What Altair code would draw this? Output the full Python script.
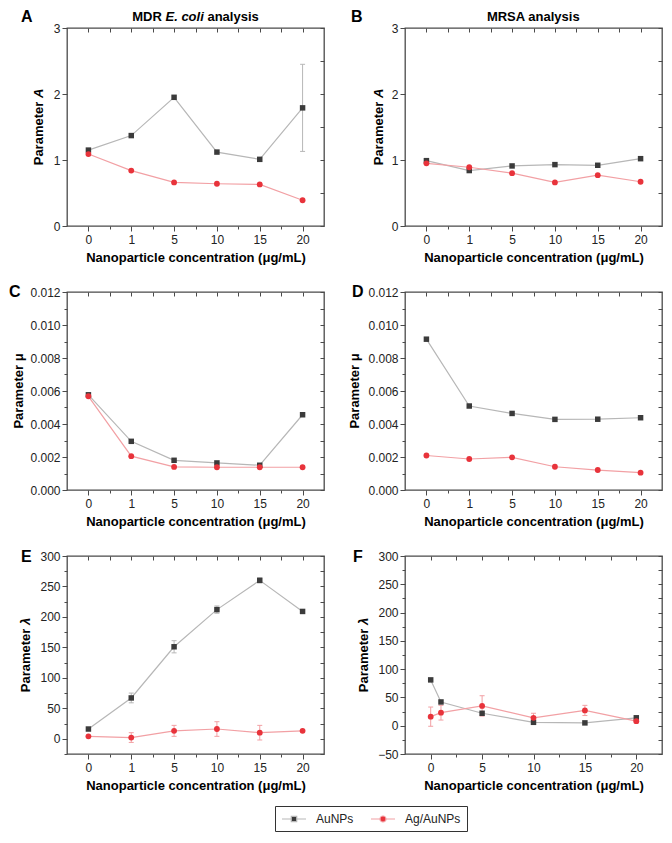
import altair as alt
import pandas as pd
import numpy as np

# ---------------- data ----------------
series_names = ["AuNPs", "Ag/AuNPs"]
conc_labels = ["0", "1", "5", "10", "15", "20"]
conc_values = [0, 1, 5, 10, 15, 20]

A_au = [1.15, 1.37, 1.95, 1.12, 1.01, 1.79]
A_au_err = [0, 0, 0, 0, 0, 0.66]
A_ag = [1.09, 0.84, 0.66, 0.64, 0.63, 0.39]
A_ag_err = [0, 0, 0, 0, 0, 0]

B_au = [0.99, 0.84, 0.91, 0.93, 0.92, 1.02]
B_au_err = [0, 0, 0, 0, 0, 0]
B_ag = [0.95, 0.89, 0.80, 0.66, 0.77, 0.67]
B_ag_err = [0, 0, 0, 0, 0, 0]

C_au = [0.00577, 0.00295, 0.00180, 0.00164, 0.00150, 0.00456]
C_au_err = [0, 0, 0, 0, 0, 0]
C_ag = [0.00568, 0.00205, 0.00140, 0.00138, 0.00138, 0.00138]
C_ag_err = [0, 0, 0, 0, 0, 0]

D_au = [0.00914, 0.00509, 0.00464, 0.00428, 0.00429, 0.00438]
D_au_err = [0, 0, 0, 0, 0, 0]
D_ag = [0.00209, 0.00188, 0.00198, 0.00141, 0.00121, 0.00105]
D_ag_err = [0, 0, 0, 0, 0, 0]

E_au = [16, 67, 151, 212, 260, 209]
E_au_err = [0, 8, 10, 6, 4, 0]
E_ag = [4, 2, 13, 16, 10, 13]
E_ag_err = [0, 8, 9, 12, 12, 0]

F_au = [81, 42, 22, 6, 5, 14]
F_au_err = [0, 0, 0, 0, 0, 0]
F_ag = [16, 23, 35, 14, 27, 8]
F_ag_err = [17, 13, 18, 8, 9, 3]

marker_colors = ["#3b3b3b", "#e8333b"]
line_colors = ["#b7b7b7", "#f2a0a4"]

W, H = 257, 198
FONT = "Liberation Sans"
TITLE_FS = 13

# legend symbols: a short line with the marker in the middle (path units, r = 6 px)
SQ_PATH = "M-2,0H-0.45M0.45,0H2M-0.45,-0.45H0.45V0.45H-0.45Z"
CI_PATH = "M-2,0H-0.5M0.5,0H2M0.5,0A0.5,0.5,0,1,1,-0.5,0A0.5,0.5,0,1,1,0.5,0Z"

fill_scale = alt.Scale(domain=series_names, range=marker_colors)
stroke_scale = alt.Scale(domain=series_names, range=line_colors)
shape_scale = alt.Scale(domain=series_names, range=[SQ_PATH, CI_PATH])

LEG = alt.Legend(
    title=None, orient="none", legendX=208, legendY=778, direction="horizontal",
    symbolSize=144, symbolOffset=6, symbolStrokeWidth=1.2, symbolOpacity=1,
    labelFontSize=12, labelColor="#222", labelOffset=15, columnPadding=14,
    gridAlign="none", strokeColor="#333", padding=6,
)

# Arial-Bold advance widths (em) for the title characters
ADV = {" ": 0.278, "P": 0.667, "a": 0.556, "r": 0.389, "m": 0.889, "e": 0.556, "t": 0.333,
       "A": 0.722, "λ": 0.556, "μ": 0.611, "M": 0.833, "D": 0.722, "R": 0.722, "E": 0.667,
       ".": 0.278, "c": 0.556, "o": 0.611, "l": 0.278, "i": 0.278, "n": 0.611, "y": 0.556,
       "s": 0.556, "S": 0.667}


def text_w(s, fs):
    return sum(ADV.get(c, 0.6) for c in s) * fs


def rich_text(pieces, center, fixed, fs, vertical=False, baseline="alphabetic"):
    """pieces: list of (text, italic). Returns text layers laid out side by side."""
    total = sum(text_w(t, fs) for t, _ in pieces)
    pos = -total / 2
    out = []
    for t, ital in pieces:
        shown = t.strip()
        lead = text_w(t[: len(t) - len(t.lstrip())], fs)
        p = pos + lead
        if vertical:
            enc = dict(x=alt.value(fixed), y=alt.value(center - p))
            mk = dict(angle=270, baseline="middle")
        else:
            enc = dict(x=alt.value(center + p), y=alt.value(fixed))
            mk = dict(baseline=baseline)
        out.append(
            alt.Chart(pd.DataFrame({"t": [shown]})).mark_text(
                align="left", fontSize=fs, fontWeight="bold",
                fontStyle="italic" if ital else "normal", color="#000", **mk
            ).encode(text="t:N", **enc)
        )
        pos += text_w(t, fs)
    return out


def make_df(xs, au, au_err, ag, ag_err):
    rows = []
    for s, vals, errs in [("AuNPs", au, au_err), ("Ag/AuNPs", ag, ag_err)]:
        for x, v, e in zip(xs, vals, errs):
            rows.append({"x": x, "value": v, "err": e, "lo": v - e, "hi": v + e, "series": s})
    return pd.DataFrame(rows)


def minor_test(step):
    return f"abs(datum.value/{step} - round(datum.value/{step})) > 0.01"


def panel(df, xdomain, xvals, xlabelexpr, xmajor, ydomain, yvals, ymajor, yfmt,
          ytitle, ytitle_x, letter, letter_xy, title=None, with_legend=False):
    xscale = alt.Scale(domain=xdomain, nice=False, zero=False)
    yscale = alt.Scale(domain=ydomain, nice=False, zero=False)

    bottom = alt.Axis(orient="bottom", values=xvals, labelExpr=xlabelexpr,
                      tickSize={"condition": {"test": minor_test(xmajor), "value": 3}, "value": 5},
                      title="Nanoparticle concentration (μg/mL)", titlePadding=6,
                      grid=False, domain=False, labelAngle=0, labelPadding=3)
    left = alt.Axis(orient="left", values=yvals, format=yfmt,
                    labelExpr=f"{minor_test(ymajor)} ? '' : datum.label",
                    tickSize={"condition": {"test": minor_test(ymajor), "value": 3}, "value": 5},
                    title=None, grid=False, domain=False, labelPadding=2)
    top = alt.Axis(orient="top", values=xvals, labels=False, title=None, tickSize=4,
                   offset=-4, domain=False, grid=False)
    right = alt.Axis(orient="right", values=yvals, labels=False, title=None, tickSize=4,
                     offset=-4, domain=False, grid=False)

    base = alt.Chart(df)
    xn = alt.X("x:Q", scale=xscale, axis=None)
    yn = alt.Y("value:Q", scale=yscale, axis=None)
    strk = alt.Stroke("series:N", scale=stroke_scale, legend=None)
    fll = alt.Fill("series:N", scale=fill_scale, legend=None)

    line = base.mark_line(strokeWidth=1.2).encode(
        x=alt.X("x:Q", scale=xscale, axis=bottom),
        y=alt.Y("value:Q", scale=yscale, axis=left),
        stroke=strk,
    )
    mirror = base.mark_point(opacity=0).encode(
        x=alt.X("x:Q", scale=xscale, axis=top),
        y=alt.Y("value:Q", scale=yscale, axis=right),
    )
    eb = base.transform_filter("datum.err > 0")
    err_v = eb.mark_rule(strokeWidth=1).encode(
        x=xn, y=alt.Y("lo:Q", scale=yscale, axis=None), y2="hi:Q", stroke=strk)
    cap_lo = eb.mark_rule(strokeWidth=1, xOffset=-2.5, x2Offset=2.5).encode(
        x=xn, x2="x:Q", y=alt.Y("lo:Q", scale=yscale, axis=None), stroke=strk)
    cap_hi = eb.mark_rule(strokeWidth=1, xOffset=-2.5, x2Offset=2.5).encode(
        x=xn, x2="x:Q", y=alt.Y("hi:Q", scale=yscale, axis=None), stroke=strk)
    pts_au = base.transform_filter("datum.series == 'AuNPs'").mark_square(
        size=30, opacity=1).encode(x=xn, y=yn, fill=fll)
    pts_ag = base.transform_filter("datum.series == 'Ag/AuNPs'").mark_circle(
        size=34, opacity=1).encode(x=xn, y=yn, fill=fll)
    lab = alt.Chart(pd.DataFrame({"t": [letter]})).mark_text(
        align="left", baseline="alphabetic", fontSize=16, fontWeight="bold", color="#000"
    ).encode(text="t:N", x=alt.value(letter_xy[0]), y=alt.value(letter_xy[1]))

    texts = [lab] + rich_text(ytitle, H / 2, ytitle_x, TITLE_FS, vertical=True)
    if title is not None:
        texts += rich_text(title, W / 2, -7, TITLE_FS)

    layers = [mirror, line, err_v, cap_lo, cap_hi, pts_au, pts_ag] + texts
    if with_legend:
        # legend-only layer (no rows drawn); placed first so its legend settings win
        leg = base.transform_filter("false").mark_point(filled=True, opacity=1, strokeWidth=1.2).encode(
            shape=alt.Shape("series:N", scale=shape_scale, legend=LEG),
            fill=alt.Fill("series:N", scale=fill_scale, legend=LEG),
            stroke=alt.Stroke("series:N", scale=stroke_scale, legend=LEG),
        )
        layers = [leg] + layers

    return alt.layer(*layers).resolve_axis(x="independent", y="independent").properties(width=W, height=H)


# x settings
idx = list(range(len(conc_labels)))
ord_vals = [i * 0.5 for i in range(2 * len(conc_labels) - 1)]
arr = "[" + ",".join(f"'{c}'" for c in conc_labels) + "]"
ord_expr = f"{minor_test(1)} ? '' : {arr}[round(datum.value)]"
lin_vals = [i * 2.5 for i in range(9)]
lin_expr = f"{minor_test(5)} ? '' : datum.label"

yA = [round(v, 4) for v in np.arange(0, 3.01, 0.5)]
yC = [round(v, 4) for v in np.arange(0, 0.01201, 0.001)]
yE = [round(v, 2) for v in np.arange(-25, 301, 25)]
yF = [round(v, 2) for v in np.arange(-50, 301, 25)]

T_A = [("Parameter ", False), ("A", True)]
T_MU = [("Parameter μ", False)]
T_LAM = [("Parameter ", False), ("λ", True)]
T_ECOLI = [("MDR ", False), ("E. coli", True), (" analysis", False)]
T_MRSA = [("MRSA analysis", False)]

pA = panel(make_df(idx, A_au, A_au_err, A_ag, A_ag_err), [-0.5, 5.5], ord_vals, ord_expr, 1,
           [0, 3], yA, 1, "d", T_A, -28, "A", (-46, -6), title=T_ECOLI, with_legend=True)
pB = panel(make_df(idx, B_au, B_au_err, B_ag, B_ag_err), [-0.5, 5.5], ord_vals, ord_expr, 1,
           [0, 3], yA, 1, "d", T_A, -26, "B", (-54, -6), title=T_MRSA)
pC = panel(make_df(idx, C_au, C_au_err, C_ag, C_ag_err), [-0.5, 5.5], ord_vals, ord_expr, 1,
           [0, 0.012], yC, 0.002, ".3f", T_MU, -48, "C", (-58, 5))
pD = panel(make_df(idx, D_au, D_au_err, D_ag, D_ag_err), [-0.5, 5.5], ord_vals, ord_expr, 1,
           [0, 0.012], yC, 0.002, ".3f", T_MU, -50, "D", (-53, 5))
pE = panel(make_df(idx, E_au, E_au_err, E_ag, E_ag_err), [-0.5, 5.5], ord_vals, ord_expr, 1,
           [-25, 300], yE, 50, "d", T_LAM, -41, "E", (-46, 6))
pF = panel(make_df(conc_values, F_au, F_au_err, F_ag, F_ag_err), [-2.5, 22.5], lin_vals, lin_expr, 5,
           [-50, 300], yF, 50, "d", T_LAM, -41, "F", (-52, 6))

chart = alt.concat(
    pA, pB, pC, pD, pE, pF, columns=2,
    spacing={"row": 66, "column": 81}, bounds="flush",
).properties(padding=0).configure(font=FONT).configure_view(
    stroke="#4a4a4a", strokeWidth=1.3
).configure_axis(
    tickColor="#4a4a4a", tickWidth=1, labelFontSize=12, labelColor="#222",
    titleFontSize=TITLE_FS, titleFontWeight="bold", titleColor="#000",
)

chart.save("out.html", embed_options={"renderer": "svg", "actions": False})
